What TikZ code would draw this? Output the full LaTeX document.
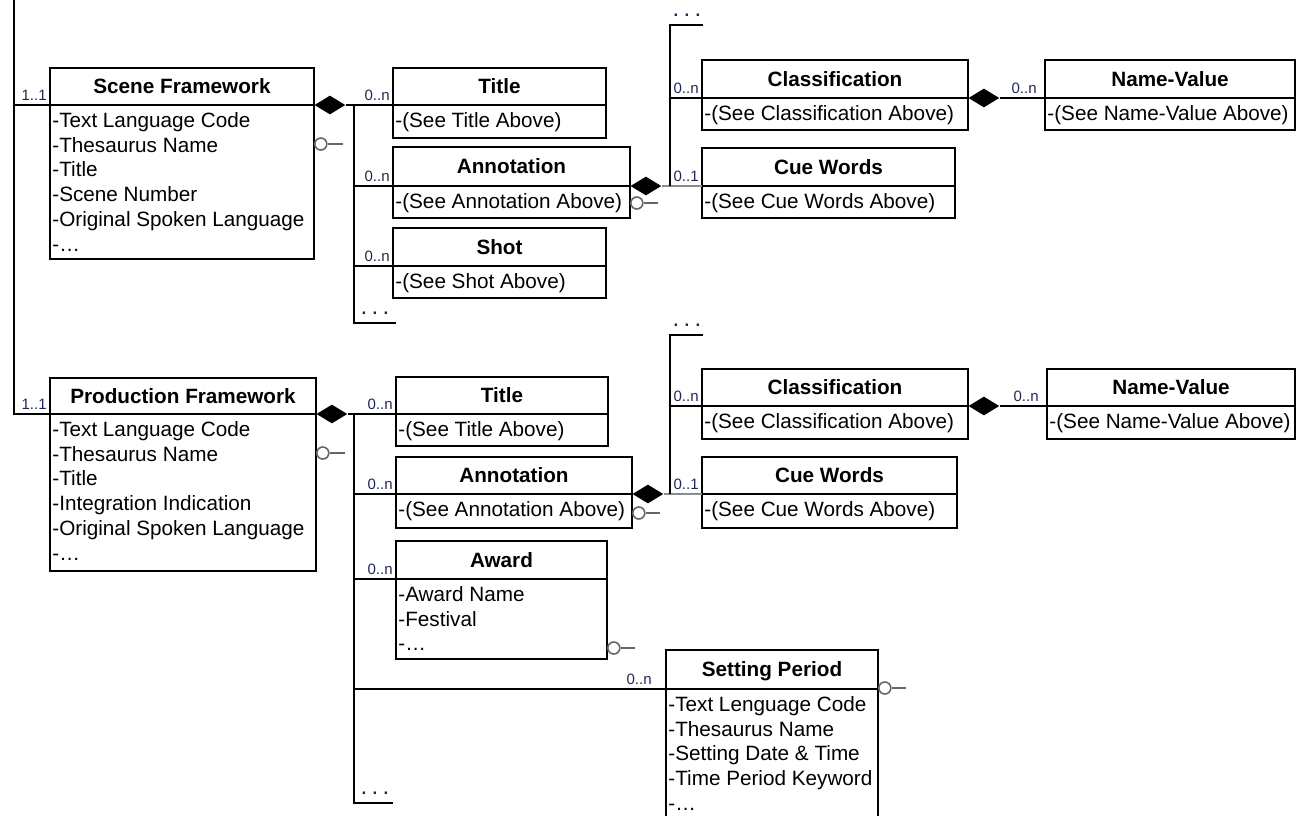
\documentclass[tikz,border=0pt]{standalone}
\usepackage{fontspec}
\setmainfont{Liberation Sans}
\usetikzlibrary{shapes.geometric, calc}
\definecolor{multblue}{RGB}{30,40,85}

% class box: name, left, top, right, separator, bottom, title, attributes
\newcommand{\umlclass}[8]{%
  \draw[clsline] (#2,#3) rectangle (#4,#6);
  \draw[clsline] (#2,#5) -- (#4,#5);
  \coordinate (#1-w) at (#2,#5);
  \coordinate (#1-e) at (#4,#5);
  \node[head] (#1-title) at ({(#2+#4)/2},{(#3+#5)/2+7.4}) {#7};
  \foreach \t [count=\i] in {#8}
    \node[attr] (#1-a\i) at ({#2+2},{#5+22.5+24.7*(\i-1)}) {\t};
}

\begin{document}
\begin{tikzpicture}[x=0.5pt, y=-0.5pt,
  clsline/.style={line width=1pt},
  link/.style={line width=1pt},
  head/.style={anchor=base, inner sep=0pt, font=\fontsize{10.35}{12}\selectfont\bfseries},
  attr/.style={anchor=base west, inner sep=0pt, font=\fontsize{10.35}{12}\selectfont},
  mult/.style={anchor=south east, inner sep=0pt, xshift=-1.5pt, yshift=2pt,
    text=multblue, font=\fontsize{7.5}{8}\selectfont},
  more/.style={anchor=base, inner sep=0pt, text=multblue, font=\fontsize{8.5}{9}\selectfont\bfseries},
  comp/.style={diamond, fill=black, inner sep=0pt, minimum width=15.5pt, minimum height=9.5pt, anchor=west},
  lolli/.style={circle, draw=black!60, fill=white, line width=0.8pt, inner sep=0pt, minimum size=6pt, anchor=west},
  stick/.style={line width=0.8pt, draw=black!60}]
  \useasboundingbox (0,0) rectangle (1297,815);
  \clip (0,0) rectangle (1297,815);

  % frameworks
  \umlclass{sf}{50}{68}{314}{105}{259}{Scene Framework}{-Text Language Code, -Thesaurus Name, -Title, -Scene Number, -Original Spoken Language, -\ldots}
  \umlclass{pf}{50}{378}{316}{414}{571}{Production Framework}{-Text Language Code, -Thesaurus Name, -Title, -Integration Indication, -Original Spoken Language, -\ldots}
  \coordinate (root) at (14,0);
  \draw[link] (root) |- (pf-w);
  \draw[link] (root |- sf-w) -- (sf-w);
  \node[mult] (m-sf) at (sf-w) {1..1};
  \node[mult] (m-pf) at (pf-w) {1..1};

  % scene parts
  \umlclass{t1}{393}{68}{606}{105}{138}{Title}{-(See Title Above)}
  \umlclass{a1}{393}{147}{630}{186}{218}{Annotation}{-(See Annotation Above)}
  \umlclass{sh}{393}{228}{606}{266}{298}{Shot}{-(See Shot Above)}
  \node[comp] (d-sf) at (sf-e) {};
  \node[lolli] (l-sf) at (314,144) {};
  \draw[stick] (l-sf.east) -- ++(7.5pt,0);
  \coordinate (b1) at (354,105);
  \coordinate (b1stub) at (396,323);
  \draw[link] (d-sf.east) -- (t1-w);
  \draw[link] (b1stub) -| (b1);
  \draw[link] (b1 |- a1-w) -- (a1-w);
  \draw[link] (b1 |- sh-w) -- (sh-w);
  \node[more] (more-b1) at (375,314) {. . .};
  \node[mult] (m-t1) at (t1-w) {0..n};
  \node[mult] (m-a1) at (a1-w) {0..n};
  \node[mult] (m-sh) at (sh-w) {0..n};

  % annotation parts (scene)
  \umlclass{cl1}{702}{60}{968}{98}{130}{Classification}{-(See Classification Above)}
  \umlclass{cw1}{702}{148}{955}{186}{218}{Cue Words}{-(See Cue Words Above)}
  \umlclass{nv1}{1045}{60}{1295}{98}{130}{Name-Value}{-(See Name-Value Above)}
  \node[comp] (d-a1) at (a1-e) {};
  \node[lolli] (l-a1) at (630,203) {};
  \draw[stick] (l-a1.east) -- ++(7pt,0);
  \coordinate (b2) at (670,25);
  \coordinate (b2stub) at (703,25);
  \draw[link, draw=black!45] (d-a1.east) -- (cw1-w);
  \draw[link] (b2stub) -| (b2 |- cw1-w);
  \draw[link] (b2 |- cl1-w) -- (cl1-w);
  \node[more] (more-b2) at (687,16) {. . .};
  \node[mult] (m-cl1) at (cl1-w) {0..n};
  \node[mult] (m-cw1) at (cw1-w) {0..1};
  \node[comp] (d-cl1) at (cl1-e) {};
  \draw[link] (d-cl1.east) -- (nv1-w);
  \node[mult, xshift=-2.5pt] (m-nv1) at (nv1-w) {0..n};

  % production parts
  \umlclass{t2}{396}{377}{608}{414}{446}{Title}{-(See Title Above)}
  \umlclass{a2}{396}{457}{632}{494}{528}{Annotation}{-(See Annotation Above)}
  \umlclass{aw}{396}{541}{607}{579}{659}{Award}{-Award Name, -Festival, -\ldots}
  \umlclass{sp}{666}{650}{878}{689}{840}{Setting Period}{-Text Lenguage Code, -Thesaurus Name, -Setting Date \& Time, -Time Period Keyword, -\ldots}
  \node[comp] (d-pf) at (pf-e) {};
  \node[lolli] (l-pf) at (316,453) {};
  \draw[stick] (l-pf.east) -- ++(7.5pt,0);
  \node[lolli] (l-aw) at (607,648) {};
  \draw[stick] (l-aw.east) -- ++(7pt,0);
  \node[lolli] (l-sp) at (878,688) {};
  \draw[stick] (l-sp.east) -- ++(7pt,0);
  \coordinate (b3) at (354,414);
  \coordinate (b3stub) at (393,803);
  \draw[link] (d-pf.east) -- (t2-w);
  \draw[link] (b3stub) -| (b3);
  \draw[link] (b3 |- a2-w) -- (a2-w);
  \draw[link] (b3 |- aw-w) -- (aw-w);
  \draw[link] (b3 |- sp-w) -- (sp-w);
  \node[more] (more-b3) at (375,794) {. . .};
  \node[mult] (m-t2) at (t2-w) {0..n};
  \node[mult] (m-a2) at (a2-w) {0..n};
  \node[mult] (m-aw) at (aw-w) {0..n};
  \node[mult, xshift=-5.5pt] (m-sp) at (sp-w) {0..n};

  % annotation parts (production)
  \umlclass{cl2}{702}{369}{968}{406}{439}{Classification}{-(See Classification Above)}
  \umlclass{cw2}{702}{457}{957}{494}{528}{Cue Words}{-(See Cue Words Above)}
  \umlclass{nv2}{1047}{369}{1295}{406}{439}{Name-Value}{-(See Name-Value Above)}
  \node[comp] (d-a2) at (a2-e) {};
  \node[lolli] (l-a2) at (632,513) {};
  \draw[stick] (l-a2.east) -- ++(7pt,0);
  \coordinate (b4) at (670,335);
  \coordinate (b4stub) at (703,335);
  \draw[link, draw=black!45] (d-a2.east) -- (cw2-w);
  \draw[link] (b4stub) -| (b4 |- cw2-w);
  \draw[link] (b4 |- cl2-w) -- (cl2-w);
  \node[more] (more-b4) at (687,326) {. . .};
  \node[mult] (m-cl2) at (cl2-w) {0..n};
  \node[mult] (m-cw2) at (cw2-w) {0..1};
  \node[comp] (d-cl2) at (cl2-e) {};
  \draw[link] (d-cl2.east) -- (nv2-w);
  \node[mult, xshift=-2.5pt] (m-nv2) at (nv2-w) {0..n};
\end{tikzpicture}
\end{document}
